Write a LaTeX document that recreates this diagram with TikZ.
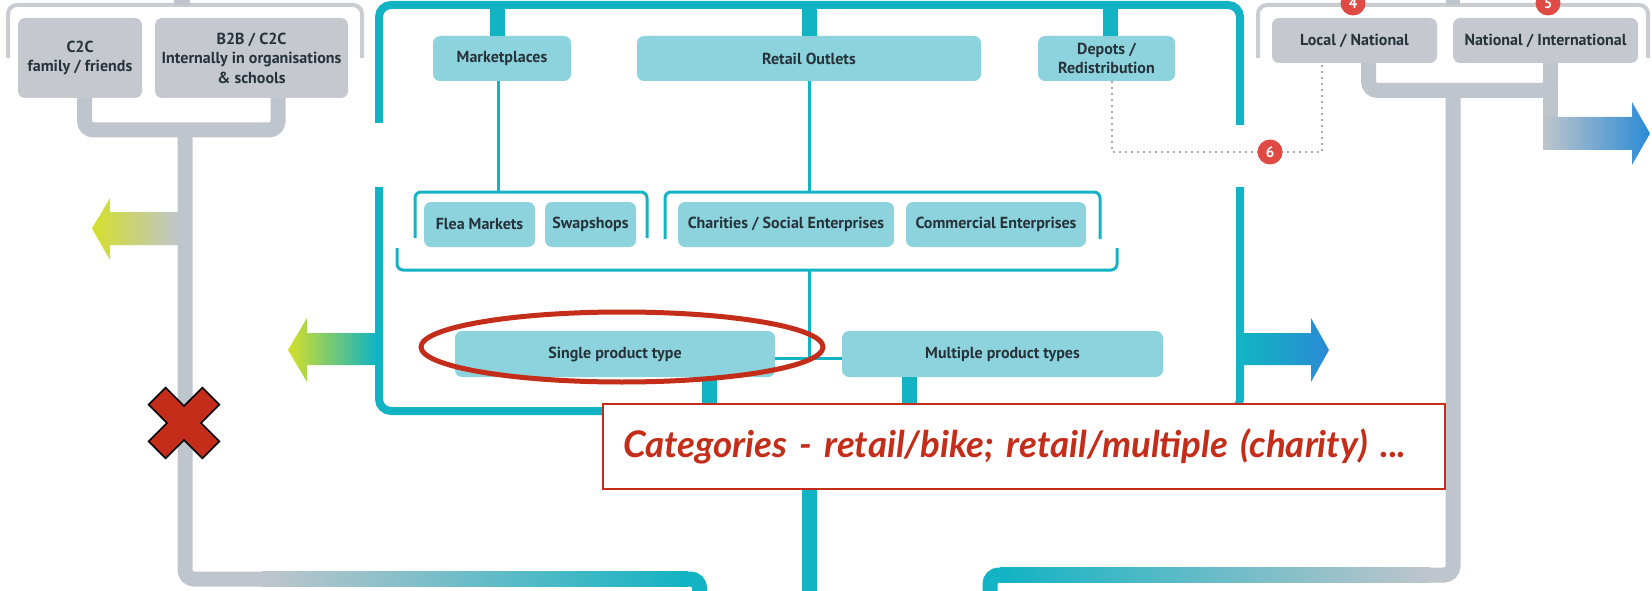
\documentclass[tikz,border=0pt]{standalone}
\usepackage{fontspec}
\setmainfont{PT Sans}
\newfontfamily\latofont{Lato}
\definecolor{tline}{HTML}{12B3C3}
\definecolor{tboxc}{HTML}{8DD3DE}
\definecolor{gboxc}{HTML}{C5C9CF}
\definecolor{gline}{HTML}{BFC5CC}
\definecolor{gthin}{HTML}{C9CDD2}
\definecolor{txt}{HTML}{26333A}
\definecolor{redc}{HTML}{C42D19}
\definecolor{badgec}{HTML}{E04A45}
\definecolor{yel}{HTML}{D4DF2A}
\definecolor{blu}{HTML}{2A8BD5}
\definecolor{dotc}{HTML}{A8ABAF}
\begin{document}
\begin{tikzpicture}[x=1pt,y=-1pt,
  boxbase/.style={rectangle, rounded corners=7pt, text=txt, inner sep=0pt, align=center,
     font=\bfseries\fontsize{16}{19.5}\selectfont},
  tbox/.style={boxbase, fill=tboxc},
  gbox/.style={boxbase, fill=gboxc},
  frameline/.style={draw=tline, line width=8pt, rounded corners=12pt},
  tstub/.style={draw=tline, line width=15pt},
  tthin/.style={draw=tline, line width=3pt, rounded corners=6pt},
  gthick/.style={draw=gline, line width=15pt, rounded corners=9pt},
  gthinb/.style={draw=gthin, line width=4pt, rounded corners=9pt},
  badge/.style={circle, fill=badgec, text=white, font=\bfseries\fontsize{15}{15}\selectfont,
     minimum size=25pt, inner sep=0pt},
  dotline/.style={draw=dotc, line width=2pt, dash pattern=on 2pt off 4pt}
]
\useasboundingbox (0,0) rectangle (1652,591);
\clip (0,0) rectangle (1652,591);
\fill[white] (0,0) rectangle (1652,591);

% ---------- boxes ----------
\node[gbox, minimum width=124pt, minimum height=80pt] (c2c) at (80,58) {C2C\\family / friends};
\node[gbox, minimum width=193pt, minimum height=80pt] (b2b) at (251.5,58) {B2B / C2C\\Internally in organisations\\\& schools};
\node[tbox, minimum width=138pt, minimum height=45pt] (market) at (502,58.5) {Marketplaces};
\node[tbox, minimum width=344pt, minimum height=45pt] (retail) at (809,58.5) {Retail Outlets};
\node[tbox, minimum width=137pt, minimum height=45pt] (depots) at (1106.5,58.5) {Depots /\\Redistribution};
\node[gbox, minimum width=165pt, minimum height=45pt] (local) at (1354.5,40.5) {Local / National};
\node[gbox, minimum width=185pt, minimum height=45pt] (natint) at (1545.5,40.5) {National / International};
\node[tbox, minimum width=111pt, minimum height=45pt] (flea) at (479.5,224.5) {Flea Markets};
\node[tbox, minimum width=91pt, minimum height=45pt] (swap) at (590.5,224.5) {Swapshops};
\node[tbox, minimum width=216pt, minimum height=45pt] (charity) at (786,224.5) {Charities / Social Enterprises};
\node[tbox, minimum width=180pt, minimum height=45pt] (commerc) at (996,224.5) {Commercial Enterprises};
\node[tbox, minimum width=320pt, minimum height=46pt] (single) at (615,354) {Single product type};
\node[tbox, minimum width=321pt, minimum height=46pt] (multiple) at (1002.5,354) {Multiple product types};

% ---------- gray top brackets ----------
\draw[gthinb] (8,58) -- (8,5) -- (362,5) -- (362,58);
\draw[draw=gline, line width=16pt] (182,-5) -- (182,5);
\draw[gthinb] (1258,58) -- (1258,5) -- (1648,5) -- (1648,58);
\draw[draw=gline, line width=14pt] (1453,-5) -- (1453,5);

% ---------- teal frame ----------
\draw[frameline] (379,123) -- (379,5) -- (1240,5) -- (1240,125);
\draw[frameline] (379,187) -- (379,411) -- (1240,411) -- (1240,187);

% stubs from top of frame
\draw[tstub] ([xshift=-4.5pt]market.north) -- ++(0,-31);
\draw[tstub] (retail.north) -- ++(0,-31);
\draw[tstub] ([xshift=4pt]depots.north) -- ++(0,-31);

% thin connectors and brackets
\coordinate (brA) at (498,192);
\coordinate (brB) at (809,192);
\coordinate (bigmid) at (809,270);
\coordinate (midj) at (809,358);
\draw[tthin] (market.south -| brA) -- (brA);
\draw[tthin] (retail.south) -- (brB);
\draw[tthin] (415,238) -- (415,192) -- (647,192) -- (647,238);
\draw[tthin] (665,239) -- (665,192) -- (1100,192) -- (1100,239);
\draw[tthin] (397,248) -- (397,270) -- (1117,270) -- (1117,248);
\draw[tthin] (bigmid) -- (midj);
\draw[tthin] ([yshift=-4pt]single.east) -- ([yshift=-4pt]multiple.west);

% thick stubs below
\draw[tstub] ([xshift=94.5pt]single.south) -- ++(0,34);
\draw[tstub] ([xshift=-93pt]multiple.south) -- ++(0,34);
\draw[tstub] (809,411) -- (809,600);

% ---------- gray left structure ----------
\coordinate (lj) at (185,130);
\draw[gthick] ([xshift=4.5pt]c2c.south) |- (lj) -| ([xshift=26.5pt]b2b.south);
\draw[gthick] (lj) -- (185,579) -- (270,579);
\shade[left color=gline, right color=tline] (262,571.5) rectangle (688,586.5);
\draw[draw=tline, line width=15pt, rounded corners=9pt] (680,579) -- (699.5,579) -- (699.5,600);

% ---------- gray right structure ----------
\coordinate (rj) at (1453,90.5);
\draw[gthick] ([xshift=14pt]local.south) |- (rj) -| ([xshift=5pt]natint.south);
\draw[draw=gline, line width=15pt] ([xshift=5pt]natint.south) -- (1550.5,140);
\draw[gthick] (rj) -- (1453,575) -- (1420,575);
\shade[left color=tline, right color=gline] (1000,567.5) rectangle (1430,582.5);
\draw[draw=tline, line width=15pt, rounded corners=9pt] (1010,575) -- (990,575) -- (990,600);

% ---------- arrows ----------
\shade[left color=yel, right color=gline] (178,212) -- (110,212) -- (110,198) -- (92,228.5) -- (110,260) -- (110,245) -- (178,245) -- cycle;
\shade[left color=yel, right color=tline] (376,333) -- (307,333) -- (307,318) -- (288,350) -- (307,382) -- (307,365) -- (376,365) -- cycle;
\shade[left color=tline, right color=blu] (1243,333) -- (1311,333) -- (1311,318) -- (1329,350) -- (1311,382) -- (1311,365) -- (1243,365) -- cycle;
\shade[left color=gline, right color=blu] (1543,117) -- (1632,117) -- (1632,102) -- (1650,133.5) -- (1632,165) -- (1632,150) -- (1543,150) -- cycle;

% ---------- dotted link ----------
\coordinate (dj) at (1322,152);
\draw[dotline] ([xshift=5.5pt]depots.south) |- (dj) -- ([xshift=-32.5pt]local.south);

% ---------- badges ----------
\node[badge] (b4) at (1353,3) {4};
\node[badge] (b5) at (1548,3) {5};
\node[badge] (b6) at (1270,152) {6};

% ---------- annotation ----------
\node[draw=redc, line width=2pt, fill=white, minimum width=842pt, minimum height=85pt,
      inner sep=0pt, text width=802pt, align=left, text=redc,
      font=\latofont\bfseries\itshape\fontsize{36.7}{40}\selectfont] (cat) at (1024,446.5)
      {Categories - retail/bike; retail/multiple (charity) ...};
\draw[draw=redc, line width=5pt] (622,347) ellipse [x radius=201, y radius=35];
\draw[black, line width=1.5pt, fill=redc, shift={(184,423)}, rotate=45]
  (-12,-38) -- (12,-38) -- (12,-12) -- (38,-12) -- (38,12) -- (12,12) -- (12,38) -- (-12,38)
  -- (-12,12) -- (-38,12) -- (-38,-12) -- (-12,-12) -- cycle;
\end{tikzpicture}
\end{document}
